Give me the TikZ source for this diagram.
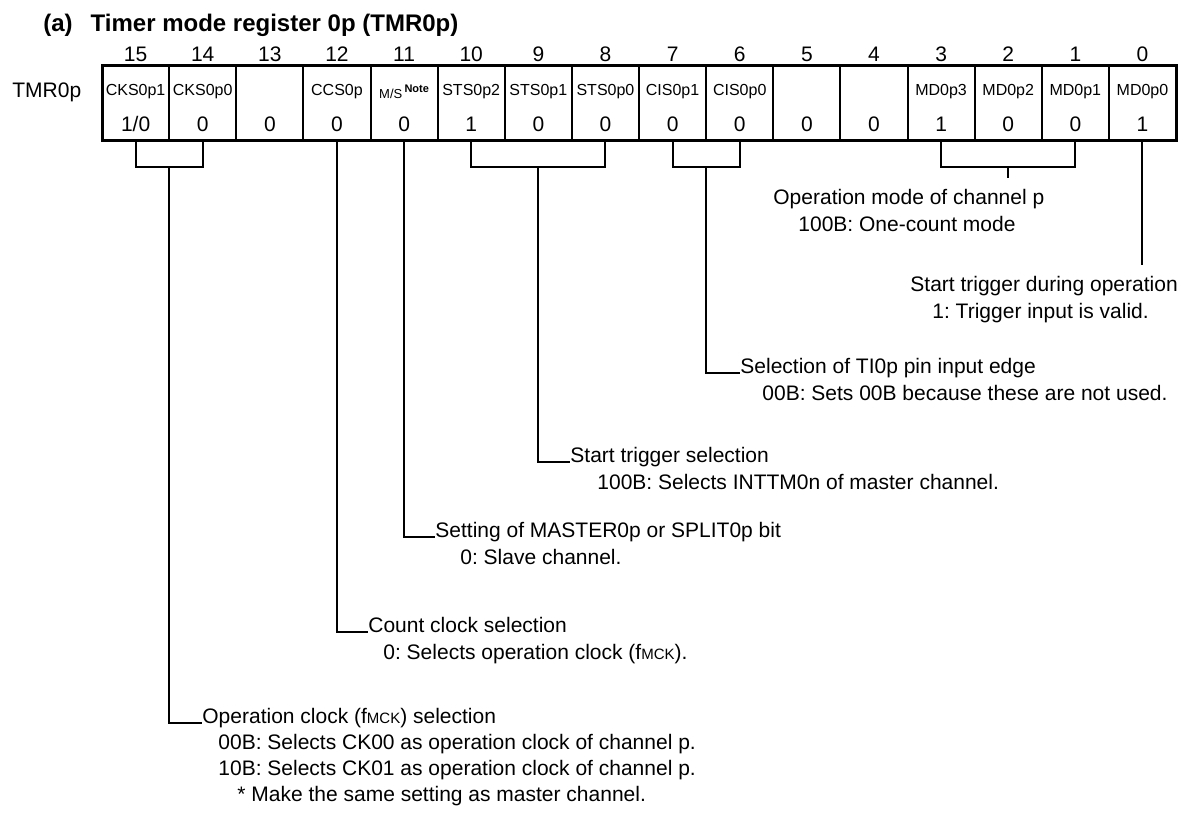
\documentclass[tikz,border=0pt]{standalone}
\usepackage{fontspec}
\setmainfont{Liberation Sans}
\usetikzlibrary{calc}
\frenchspacing
\newcommand{\fmck}{f{\fontsize{7.5}{8}\selectfont MCK}}

\begin{document}
\begin{tikzpicture}[x=0.5pt,y=-0.5pt,
    cell/.style={draw,line width=1pt,minimum width=33.56pt,minimum height=37.5pt,inner sep=0pt,outer sep=0pt},
    bitno/.style={font=\fontsize{10.5}{12}\selectfont,inner sep=0pt},
    bitname/.style={font=\fontsize{8}{9}\selectfont,inner sep=0pt},
    bitval/.style={font=\fontsize{10.5}{12}\selectfont,inner sep=0pt},
    desc/.style={font=\fontsize{10.5}{12}\selectfont,inner sep=0pt,anchor=base west},
    conn/.style={line width=1pt}]
  \useasboundingbox (0,0) rectangle (1183,816);
  \node[font=\bfseries\fontsize{12}{14}\selectfont,inner sep=0pt,anchor=base west] (title) at (43,31) {(a)\hspace{9pt}Timer mode register 0p (TMR0p)};
  \node[desc] (reg) at (12,97) {TMR0p};
  % register cells
  \foreach \b [evaluate=\b as \x using {135.6+67.125*(15-\b)}] in {15,...,0}{
    \node[cell] (c\b) at (\x,102.5) {};
    \node[bitno] (n\b) at (\x,54) {\b};
  }
  \draw[line width=1.5pt] (c15.north west) rectangle (c0.south east);
  \foreach \b/\nm in {15/CKS0p1,14/CKS0p0,12/CCS0p,10/STS0p2,9/STS0p1,8/STS0p0,7/CIS0p1,6/CIS0p0,3/MD0p3,2/MD0p2,1/MD0p1,0/MD0p0}
    \node[bitname] (f\b) at ($(c\b.center)+(0,-11)$) {\nm};
  \node[inner sep=0pt] (f11) at ($(c11.center)+(0,-11)$) {\fontsize{6.5}{7}\selectfont M/S\,\raisebox{3pt}{\fontsize{5.5}{6}\selectfont\bfseries Note}};
  \node[bitval] (v15) at ($(c15.center)+(0,21.5)$) {1/0};
  \foreach \b/\v in {14/0,13/0,12/0,11/0,10/1,9/0,8/0,7/0,6/0,5/0,4/0,3/1,2/0,1/0,0/1}
    \node[bitval] (v\b) at ($(c\b.center)+(0,21.5)$) {\v};

  % descriptions
  \node[desc] (mdT) at (773,204) {Operation mode of channel p};
  \node[desc] (mdV) at (798,231) {100B: One-count mode};
  \node[desc] (stT) at (910,291) {Start trigger during operation};
  \node[desc] (stV) at (932,318) {1: Trigger input is valid.};
  \node[desc] (cisT) at (740,373) {Selection of TI0p pin input edge};
  \node[desc] (cisV) at (762,400) {00B: Sets 00B because these are not used.};
  \node[desc] (stsT) at (570,462) {Start trigger selection};
  \node[desc] (stsV) at (597,489) {100B: Selects INTTM0n of master channel.};
  \node[desc] (msT) at (435,537) {Setting of MASTER0p or SPLIT0p bit};
  \node[desc] (msV) at (460,564) {0: Slave channel.};
  \node[desc] (ccsT) at (368,632) {Count clock selection};
  \node[desc] (ccsV) at (383,659) {0: Selects operation clock (\fmck).};
  \node[desc] (cksT) at (202,723) {Operation clock (\fmck) selection};
  \node[desc] (cksA) at (218,749) {00B: Selects CK00 as operation clock of channel p.};
  \node[desc] (cksB) at (218,775) {10B: Selects CK01 as operation clock of channel p.};
  \node[desc] (cksC) at (237,801) {* Make the same setting as master channel.};

  % brackets
  \draw[conn] (c3.south) -- ++(0,27) coordinate (mdL) -| (c1.south);
  \draw[conn] (c2.south |- mdL) -- ++(0,11);
  \draw[conn] (c0.south) -- ++(0,125);
  \draw[conn] (c7.south) -- ++(0,27) coordinate (cisL) -| (c6.south);
  \draw[conn] (c7.south east |- cisL) |- (cisT.base west);
  \draw[conn] (c10.south) -- ++(0,27) coordinate (stsL) -| (c8.south);
  \draw[conn] (c9.south |- stsL) |- (stsT.base west);
  \draw[conn] (c11.south) |- (msT.base west);
  \draw[conn] (c12.south) |- (ccsT.base west);
  \draw[conn] (c15.south) -- ++(0,27) coordinate (cksL) -| (c14.south);
  \draw[conn] (c15.south east |- cksL) |- (cksT.base west);
\end{tikzpicture}
\end{document}
